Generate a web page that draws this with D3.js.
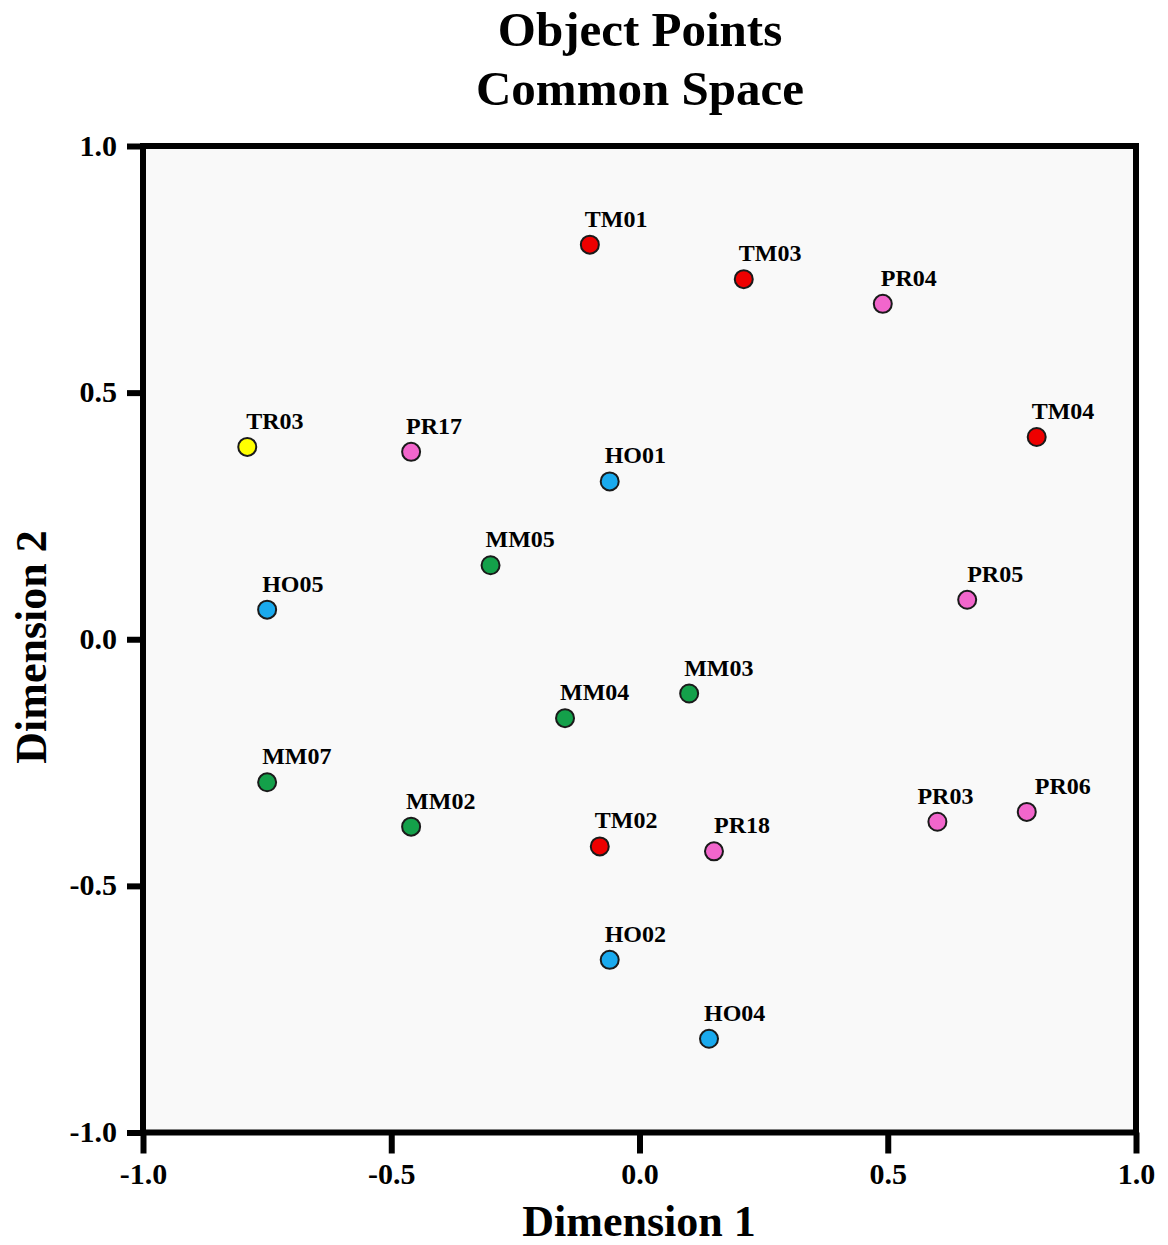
<!DOCTYPE html>
<html>
<head>
<meta charset="utf-8">
<script src="https://cdn.jsdelivr.net/npm/d3@7"></script>
<style>
  html, body { margin: 0; padding: 0; background: #ffffff; }
  svg { display: block; }
</style>
</head>
<body>
<svg id="chart" width="1168" height="1245"></svg>
<script>
// Object labels and their coordinates in the common space
const labels = ["TM01","TM03","PR04","TM04","TR03","PR17","HO01","MM05","HO05","PR05",
                "MM03","MM04","MM07","MM02","TM02","PR18","PR03","PR06","HO02","HO04"];
const dim1 =   [-0.10, 0.21, 0.49, 0.80,-0.79,-0.46,-0.06,-0.30,-0.75, 0.66,
                 0.10,-0.15,-0.75,-0.46,-0.08, 0.15, 0.60, 0.78,-0.06, 0.14];
const dim2 =   [ 0.80, 0.73, 0.68, 0.41, 0.39, 0.38, 0.32, 0.15, 0.06, 0.08,
                -0.11,-0.16,-0.29,-0.38,-0.42,-0.43,-0.37,-0.35,-0.65,-0.81];

// Groups are identified by the label prefix
const groups = ["TM","PR","TR","HO","MM"];
const groupColors = ["#ee0000","#f266cc","#ffff00","#1aaaee","#14a04a"];

const xTicks = [-1.0,-0.5,0.0,0.5,1.0];
const yTicks = [-1.0,-0.5,0.0,0.5,1.0];

const points = labels.map((l, i) => ({label: l, x: dim1[i], y: dim2[i], group: l.slice(0, 2)}));

const svg = d3.select("#chart");
const plotLeft = 143, plotRight = 1136, plotTop = 146, plotBottom = 1132.5;

const x = d3.scaleLinear().domain([-1, 1]).range([plotLeft, plotRight]);
const y = d3.scaleLinear().domain([-1, 1]).range([plotBottom, plotTop]);
const color = d3.scaleOrdinal().domain(groups).range(groupColors);

const serif = "'Liberation Serif','Times New Roman',serif";

// Plot background
svg.append("rect")
  .attr("x", plotLeft).attr("y", plotTop)
  .attr("width", plotRight - plotLeft).attr("height", plotBottom - plotTop)
  .attr("fill", "#f9f9f9");

// Axes (plain hyphen for negative values)
const fmt = v => d3.format(".1f")(v).replace("\u2212", "-");
const xAxis = svg.append("g").attr("transform", `translate(0,${plotBottom})`)
  .call(d3.axisBottom(x).tickValues(xTicks).tickFormat(fmt).tickSize(21).tickPadding(6));
const yAxis = svg.append("g").attr("transform", `translate(${plotLeft},0)`)
  .call(d3.axisLeft(y).tickValues(yTicks).tickFormat(fmt).tickSize(16).tickPadding(10));

[xAxis, yAxis].forEach(g => {
  g.select(".domain").remove();
  g.selectAll(".tick line").attr("stroke", "#000").attr("stroke-width", 6);
  g.selectAll(".tick text")
    .attr("fill", "#000")
    .style("font-family", serif)
    .style("font-weight", "bold")
    .style("font-size", "30px");
});
xAxis.selectAll(".tick text").attr("dy", "0.8em");
yAxis.selectAll(".tick text").attr("dy", "0.3em");

// Frame around the plot area
svg.append("rect")
  .attr("x", plotLeft).attr("y", plotTop)
  .attr("width", plotRight - plotLeft).attr("height", plotBottom - plotTop)
  .attr("fill", "none")
  .attr("stroke", "#000")
  .attr("stroke-width", 6);

// Points
const pg = svg.append("g");
pg.selectAll("circle").data(points).join("circle")
  .attr("cx", d => x(d.x))
  .attr("cy", d => y(d.y))
  .attr("r", 9)
  .attr("fill", d => color(d.group))
  .attr("stroke", "#1a1a1a")
  .attr("stroke-width", 2);

// Label placement: just above-left of each point, a few nudged sideways
const labelShift = {PR03: -20, PR06: 8, PR18: 0, PR05: 0, TR03: -1, PR04: -2};
pg.selectAll("text").data(points).join("text")
  .attr("x", d => x(d.x) + (d.label in labelShift ? labelShift[d.label] : -5))
  .attr("y", d => y(d.y) - 18)
  .attr("font-family", serif)
  .attr("font-weight", "bold")
  .attr("font-size", "24px")
  .attr("fill", "#000")
  .text(d => d.label);

// Titles
svg.append("text")
  .attr("x", 640).attr("y", 46)
  .attr("text-anchor", "middle")
  .attr("font-family", serif).attr("font-weight", "bold").attr("font-size", "49px")
  .text("Object Points");
svg.append("text")
  .attr("x", 640).attr("y", 105)
  .attr("text-anchor", "middle")
  .attr("font-family", serif).attr("font-weight", "bold").attr("font-size", "49px")
  .text("Common Space");

svg.append("text")
  .attr("x", 639).attr("y", 1236)
  .attr("text-anchor", "middle")
  .attr("font-family", serif).attr("font-weight", "bold").attr("font-size", "44px")
  .text("Dimension 1");

svg.append("text")
  .attr("transform", "translate(46,647) rotate(-90)")
  .attr("text-anchor", "middle")
  .attr("font-family", serif).attr("font-weight", "bold").attr("font-size", "44px")
  .text("Dimension 2");
</script>
</body>
</html>
